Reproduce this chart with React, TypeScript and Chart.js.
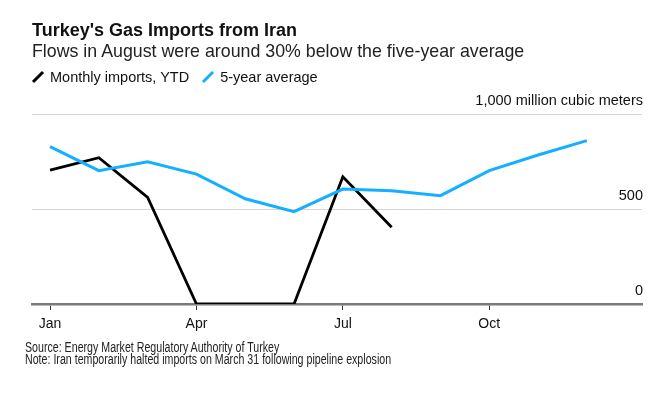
import React, { useEffect, useRef } from "react";
import { Chart, registerables } from "chart.js";

Chart.register(...registerables);

const MONTHS = ["Jan", "Feb", "Mar", "Apr", "May", "Jun", "Jul", "Aug", "Sep", "Oct", "Nov", "Dec"];
const TICK_MONTHS = [0, 3, 6, 9];
const MONTHLY_YTD = [705, 770, 561, 0, 0, 0, 670, 404];
const FIVE_YEAR_AVG = [828, 702, 749, 684, 554, 486, 605, 596, 570, 702, 784, 860];
const Y_TICKS = [0, 500, 1000];
const Y_LABELS = ["0", "500", "1,000 million cubic meters"];

const BLACK = "#000000";
const BLUE = "#14b0ff";
const MAIN_FONT = "'Liberation Sans', Arial, Helvetica, sans-serif";

const yLabelPlugin = {
  id: "yLabelPlugin",
  afterDraw(chart: any) {
    const { ctx, chartArea, scales } = chart;
    const y = scales.y;
    ctx.save();
    ctx.fillStyle = "#111";
    ctx.font = "14.5px " + MAIN_FONT;
    ctx.textAlign = "right";
    ctx.textBaseline = "alphabetic";
    Y_TICKS.forEach((v, i) => {
      const py = y.getPixelForValue(v);
      ctx.fillText(Y_LABELS[i], chartArea.right + 1, py - 9);
    });
    ctx.restore();
  },
};

function LegendIcon({ color }: { color: string }) {
  return (
    <svg width="14" height="14" style={{ verticalAlign: "middle", marginRight: 5 }}>
      <line x1="2" y1="12" x2="12" y2="2" stroke={color} strokeWidth="3" />
    </svg>
  );
}

export default function App() {
  const canvasRef = useRef<HTMLCanvasElement | null>(null);

  useEffect(() => {
    document.body.style.margin = "0";
    const canvas = canvasRef.current;
    if (!canvas) return;
    const chart = new Chart(canvas, {
      type: "line",
      data: {
        datasets: [
          {
            label: "5-year average",
            data: FIVE_YEAR_AVG.map((v, i) => ({ x: i, y: v })),
            borderColor: BLUE,
            borderWidth: 3,
            pointRadius: 0,
            tension: 0,
            borderJoinStyle: "miter",
          },
          {
            label: "Monthly imports, YTD",
            data: MONTHLY_YTD.map((v, i) => ({ x: i, y: v })),
            borderColor: BLACK,
            borderWidth: 2.8,
            pointRadius: 0,
            tension: 0,
            borderJoinStyle: "miter",
          },
        ],
      },
      options: {
        animation: false,
        responsive: false,
        maintainAspectRatio: false,
        layout: { padding: { top: 114, left: 32, right: 24, bottom: 0 } },
        plugins: {
          legend: { display: false },
          tooltip: { enabled: false },
          title: { display: false },
        },
        scales: {
          x: {
            type: "linear",
            min: -0.37,
            max: 12.13,
            afterBuildTicks: (scale: any) => {
              scale.ticks = TICK_MONTHS.map((v) => ({ value: v }));
            },
            afterFit: (scale: any) => {
              scale.height = 93;
            },
            ticks: {
              autoSkip: false,
              maxRotation: 0,
              padding: 6,
              color: "#111",
              font: { family: MAIN_FONT, size: 14 },
              callback: (v: any) => MONTHS[Number(v)] ?? "",
            },
            grid: {
              drawOnChartArea: false,
              drawTicks: true,
              tickLength: 6,
              color: "#333",
              lineWidth: 1,
            },
            border: { display: true, color: "#7a7a7a", width: 2.5 },
          },
          y: {
            position: "right",
            min: 0,
            max: 1000,
            afterBuildTicks: (scale: any) => {
              scale.ticks = Y_TICKS.map((v) => ({ value: v }));
            },
            afterFit: (scale: any) => {
              scale.width = 0;
            },
            ticks: { display: false },
            grid: { color: "#d6d6d6", lineWidth: 1, drawTicks: false },
            border: { display: false },
          },
        },
      },
      plugins: [yLabelPlugin],
    } as any);
    return () => chart.destroy();
  }, []);

  return (
    <div style={{ position: "relative", width: 666, height: 397, background: "#fff", fontFamily: MAIN_FONT, color: "#111" }}>
      <canvas ref={canvasRef} width={666} height={397} style={{ position: "absolute", left: 0, top: 0 }} />
      <div style={{ position: "absolute", left: 32, top: 21, fontSize: 18, lineHeight: "18px", fontWeight: 700, whiteSpace: "nowrap" }}>
        Turkey's Gas Imports from Iran
      </div>
      <div style={{ position: "absolute", left: 32, top: 42, fontSize: 17.8, lineHeight: "18px", whiteSpace: "nowrap", color: "#222" }}>
        Flows in August were around 30% below the five-year average
      </div>
      <div style={{ position: "absolute", left: 31, top: 67, fontSize: 14.5, lineHeight: "18px", whiteSpace: "nowrap" }}>
        <LegendIcon color={BLACK} />
        <span style={{ verticalAlign: "middle" }}>Monthly imports, YTD</span>
        <span style={{ display: "inline-block", width: 12 }} />
        <LegendIcon color={BLUE} />
        <span style={{ verticalAlign: "middle" }}>5-year average</span>
      </div>
      <div
        style={{
          position: "absolute",
          left: 25,
          top: 342,
          fontSize: 14,
          lineHeight: "11.5px",
          whiteSpace: "nowrap",
          color: "#222",
          transform: "scaleX(0.76)",
          transformOrigin: "left top",
        }}
      >
        <div>Source: Energy Market Regulatory Authority of Turkey</div>
        <div>Note: Iran temporarily halted imports on March 31 following pipeline explosion</div>
      </div>
    </div>
  );
}
